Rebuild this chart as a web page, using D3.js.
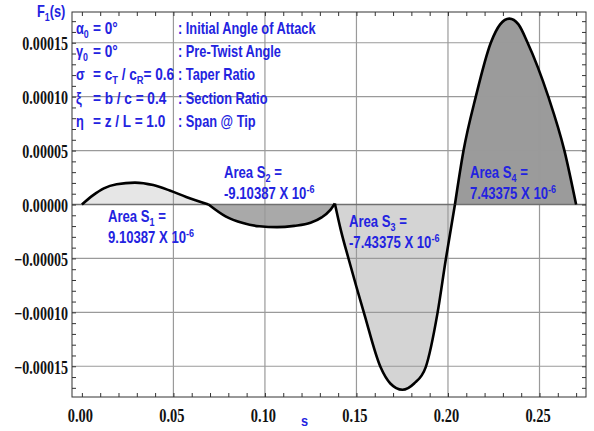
<!DOCTYPE html>
<html>
<head>
<meta charset="utf-8">
<script src="https://cdn.jsdelivr.net/npm/d3@7"></script>
<style>
  body { margin: 0; background: #fff; }
  svg { display: block; }
  .tickText { font-family: "Liberation Serif", "Times New Roman", serif; font-weight: bold; font-size: 19px; fill: #111; }
  .blue { font-family: "Liberation Sans", Arial, sans-serif; font-weight: bold; font-size: 16px; fill: #2323e0; }
</style>
</head>
<body>
<div id="chart"></div>
<script>
// curve F1(s), values (F in units of 1e-5)
var sValues = [0, 0.006, 0.012, 0.019, 0.029, 0.039, 0.048, 0.057, 0.0692,
  0.0785, 0.088, 0.097, 0.1066, 0.116, 0.1249, 0.131, 0.1355, 0.1382,
  0.1415, 0.1458, 0.1541, 0.1632, 0.1685, 0.1751, 0.1815, 0.1878, 0.1943, 0.1988, 0.2038,
  0.2085, 0.2152, 0.2234, 0.2285, 0.2335, 0.2385, 0.2435, 0.2548, 0.2636, 0.27];
var fValues = [0, 0.85, 1.5, 1.88, 2.03, 1.8, 1.3, 0.7, 0,
  -1.1, -1.72, -2.02, -2.1, -1.98, -1.7, -1.2, -0.55, 0.1,
  -2.4, -5.1, -10.05, -15.1, -16.6, -17.18, -16.6, -15.1, -10.05, -5.1, 0,
  5.0, 10.0, 15.0, 16.7, 17.24, 16.7, 15.0, 10.0, 5.0, 0];

// s where each shaded area starts / ends
var regionBounds = [0, 0.0692, 0.1382, 0.2038, 0.27];

var xTicks = [0, 0.05, 0.10, 0.15, 0.20, 0.25];
var xTickLabels = ["0.00", "0.05", "0.10", "0.15", "0.20", "0.25"];
var yTicks = [0.00015, 0.0001, 0.00005, 0, -0.00005, -0.0001, -0.00015];
var yTickLabels = ["0.00015", "0.00010", "0.00005", "0.00000", "\u22120.00005", "\u22120.00010", "\u22120.00015"];

var legendSymbols = ["α_{0}", "γ_{0}", "σ", "ξ", "η"];
var legendExprs = ["= 0°", "= 0°", "= c_{T} / c_{R}= 0.6", "= b / c = 0.4", "= z / L = 1.0"];
var legendDescs = [": Initial Angle of Attack", ": Pre-Twist Angle", ": Taper Ratio", ": Section Ratio", ": Span @ Tip"];

var areaNames = ["Area S_{1} =", "Area S_{2} =", "Area S_{3} =", "Area S_{4} ="];
var areaValues = ["9.10387 X 10^{-6}", "-9.10387 X 10^{-6}", "-7.43375 X 10^{-6}", "7.43375 X 10^{-6}"];

// svg area
var svgWidth = 594;
var svgHeight = 431;
var margin = {top: 12, right: 8, bottom: 34, left: 72};
var width = svgWidth - margin.left - margin.right;
var height = svgHeight - margin.top - margin.bottom;

var svg = d3.select("#chart").append("svg")
  .attr("width", svgWidth)
  .attr("height", svgHeight);

var chartGroup = svg.append("g")
  .attr("transform", `translate(${margin.left}, ${margin.top})`);

var x = d3.scaleLinear().domain([-0.0054, 0.2754]).range([0, width]);
var y = d3.scaleLinear().domain([-0.0001785, 0.0001785]).range([height, 0]);

var points = sValues.map((s, i) => ({s: s, f: fValues[i] * 1e-5}));

// shaded areas
var fills = ["#e6e6e6", "#a9a9a9", "#d4d4d4", "#9b9b9b"];
var area = d3.area()
  .x(d => x(d.s))
  .y0(y(0))
  .y1(d => y(d.f))
  .curve(d3.curveMonotoneX);
var line = d3.line()
  .x(d => x(d.s))
  .y(d => y(d.f))
  .curve(d3.curveMonotoneX);

var segments = [];
for (var r = 0; r < regionBounds.length - 1; r++) {
  segments.push(points.filter(d => d.s >= regionBounds[r] - 1e-9 && d.s <= regionBounds[r + 1] + 1e-9));
}

chartGroup.selectAll(".area")
  .data(segments)
  .enter().append("path")
  .attr("class", "area")
  .attr("d", area)
  .attr("fill", (d, i) => fills[i]);

// grid
chartGroup.selectAll(".vgrid")
  .data(xTicks.slice(1))
  .enter().append("line")
  .attr("x1", d => x(d)).attr("x2", d => x(d))
  .attr("y1", 0).attr("y2", height)
  .attr("stroke", "#9a9a9a").attr("stroke-width", 1.2);

chartGroup.selectAll(".hgrid")
  .data(yTicks)
  .enter().append("line")
  .attr("x1", 0).attr("x2", width)
  .attr("y1", d => y(d)).attr("y2", d => y(d))
  .attr("stroke", d => d === 0 ? "#707070" : "#9a9a9a")
  .attr("stroke-width", d => d === 0 ? 1.6 : 1.2);

// the curve
chartGroup.selectAll(".curve")
  .data(segments)
  .enter().append("path")
  .attr("d", line)
  .attr("fill", "none")
  .attr("stroke", "#000")
  .attr("stroke-width", 2.6)
  .attr("stroke-linejoin", "round");

// minor ticks on all four sides of the frame
function minorAxis(axis, scale, count, transform) {
  var g = chartGroup.append("g")
    .attr("transform", transform)
    .call(axis(scale).ticks(count).tickSizeInner(-4).tickSizeOuter(0).tickFormat(""));
  g.select(".domain").remove();
  g.selectAll("line").attr("stroke", "#333");
}
minorAxis(d3.axisBottom, x, 30, `translate(0, ${height})`);
minorAxis(d3.axisTop, x, 30, "translate(0, 0)");
minorAxis(d3.axisLeft, y, 40, "translate(0, 0)");
minorAxis(d3.axisRight, y, 40, `translate(${width}, 0)`);

chartGroup.append("rect")
  .attr("width", width).attr("height", height)
  .attr("fill", "none").attr("stroke", "#333").attr("stroke-width", 1);

// tick labels
var bottomAxis = d3.axisBottom(x).tickValues(xTicks).tickSize(0).tickPadding(0)
  .tickFormat((d, i) => xTickLabels[i]);
var gx = chartGroup.append("g").attr("transform", `translate(0, ${height})`).call(bottomAxis);
gx.select(".domain").remove();
gx.selectAll("text").attr("class", "tickText").attr("y", 0).attr("dy", 0)
  .attr("transform", "translate(-2, 25) scale(0.76, 1)");

var leftAxis = d3.axisLeft(y).tickValues(yTicks).tickSize(0).tickPadding(0)
  .tickFormat((d, i) => yTickLabels[i]);
var gy = chartGroup.append("g").call(leftAxis);
gy.select(".domain").remove();
gy.selectAll("text").attr("class", "tickText").attr("x", 0).attr("dy", 0)
  .attr("transform", "translate(-4, 7) scale(0.74, 1)");

// rich text helper: _{..} subscript, ^{..} superscript
function richText(x0, y0, str, sx, size) {
  var t = svg.append("text").attr("class", "blue")
    .attr("transform", `translate(${x0}, ${y0}) scale(${sx}, 1)`);
  if (size) t.style("font-size", size);
  var shift = 0;
  str.split(/(_\{[^}]*\}|\^\{[^}]*\})/).forEach(function(part) {
    if (!part) return;
    var target = 0, txt = part, small = false;
    if (part[0] === "_") { target = 4; txt = part.slice(2, -1); small = true; }
    if (part[0] === "^") { target = -6; txt = part.slice(2, -1); small = true; }
    t.append("tspan").attr("dy", target - shift)
      .attr("font-size", small ? "11px" : null)
      .text(txt);
    shift = target;
  });
  return t;
}

// parameter block
legendSymbols.forEach(function(sym, i) {
  var yy = 34 + i * 23.2;
  richText(76, yy, sym, 0.8);
  richText(93, yy, legendExprs[i], 0.85);
  richText(178, yy, legendDescs[i], 0.8);
});

// area labels
var areaPos = [[108, 221.5], [224, 178.3], [349, 226.7], [470, 178.3]];
areaNames.forEach(function(name, i) {
  richText(areaPos[i][0], areaPos[i][1], name, 0.82);
  richText(areaPos[i][0], areaPos[i][1] + 21, areaValues[i], 0.82);
});

// axis titles
richText(37, 17, "F_{1}(s)", 0.8);
richText(301, 426, "s", 0.85, "15px");
</script>
</body>
</html>
